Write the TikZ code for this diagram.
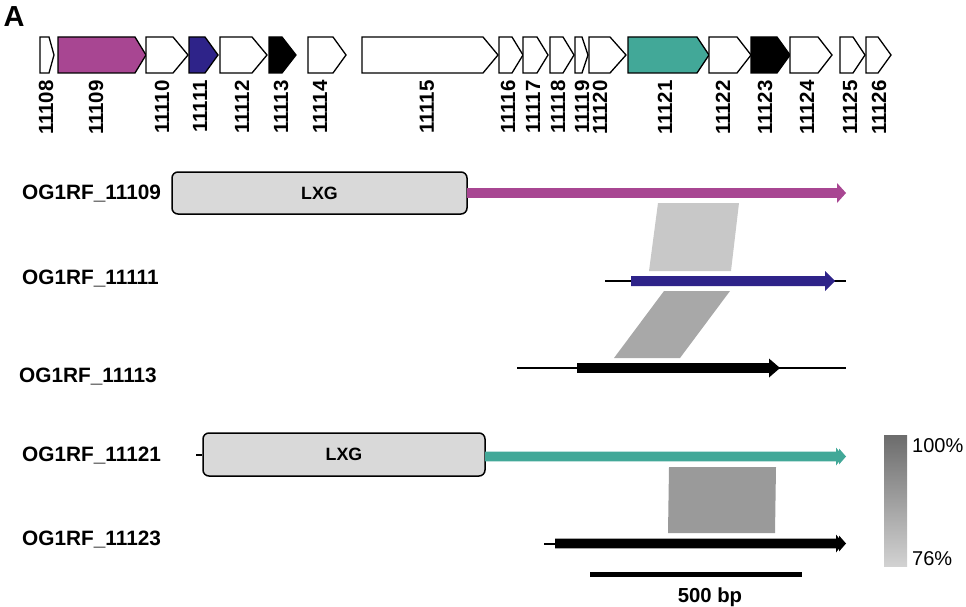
\documentclass[tikz,border=0pt]{standalone}
\usepackage{fontspec}
\setmainfont{Liberation Sans}
\definecolor{mag}{RGB}{168,70,146}
\definecolor{dblue}{RGB}{46,35,137}
\definecolor{tealc}{RGB}{66,168,152}
\definecolor{lxgfill}{RGB}{217,217,217}
\definecolor{hitA}{RGB}{200,200,200}
\definecolor{hitB}{RGB}{168,168,168}
\definecolor{hitC}{RGB}{154,154,154}
\definecolor{gradtop}{RGB}{108,108,108}
\definecolor{gradbot}{RGB}{210,210,210}
% gene arrow: x1, shoulder, tip, fill
\newcommand\genearrow[4]{\draw[genebox, fill=#4] (#1,37) -- (#2,37) -- (#3,55) -- (#2,73) -- (#1,73) -- cycle;}
% thick arrow: x1, head start, tip, y, half band, half head, colour
\newcommand\fatarrow[7]{\fill[#7] (#1,#4-#5) -- (#2,#4-#5) -- (#2,#4-#6) -- (#3,#4) -- (#2,#4+#6) -- (#2,#4+#5) -- (#1,#4+#5) -- cycle;}
\newcommand\extrahead[5]{\fill[#5] (#1,#3-#4) -- (#2,#3) -- (#1,#3+#4) -- cycle;}
\begin{document}
\begin{tikzpicture}[x=1pt,y=-1pt,
  genebox/.style={draw=black, line width=1.3pt, line join=miter},
  glabel/.style={font=\fontsize{20.5}{20}\selectfont\bfseries, inner sep=0pt, rotate=90, anchor=east},
  rowlabel/.style={font=\fontsize{20.8}{20}\selectfont\bfseries, inner sep=0pt, anchor=base west},
  lxgbox/.style={draw=black, line width=1.5pt, fill=lxgfill, rounded corners=6pt, inner sep=0pt,
    font=\fontsize{17.8}{18}\selectfont\bfseries},
  thinline/.style={draw=black, line width=2pt},
  pctlabel/.style={font=\fontsize{20}{20}\selectfont, inner sep=0pt, anchor=base west}]
\useasboundingbox (0,0) rectangle (966,607);

\node[font=\fontsize{29}{29}\selectfont\bfseries, inner sep=0pt, anchor=base west] (panel) at (3.5,27) {A};

% ---- locus ----
\genearrow{40}{49}{54}{white}
\genearrow{58}{135}{146}{mag}
\genearrow{146}{173}{188}{white}
\genearrow{189}{205}{218}{dblue}
\genearrow{220}{252}{267}{white}
\genearrow{269}{282}{296}{black}
\genearrow{308}{333}{346}{white}
\genearrow{362}{483}{498}{white}
\genearrow{499}{512}{523}{white}
\genearrow{523}{537}{548}{white}
\genearrow{550}{563}{574}{white}
\genearrow{575}{582}{588}{white}
\genearrow{589}{610}{626}{white}
\genearrow{628}{697}{709}{tealc}
\genearrow{709}{737}{751}{white}
\genearrow{751}{777}{790}{black}
\genearrow{790}{818}{832}{white}
\genearrow{840}{853}{865}{white}
\genearrow{866}{878}{891}{white}

\node[glabel] (g08) at (46,80) {11108};
\node[glabel] (g09) at (96,80) {11109};
\node[glabel] (g10) at (162,80) {11110};
\node[glabel] (g11) at (200,80) {11111};
\node[glabel] (g12) at (242,80) {11112};
\node[glabel] (g13) at (281,80) {11113};
\node[glabel] (g14) at (320,80) {11114};
\node[glabel] (g15) at (427,80) {11115};
\node[glabel] (g16) at (508,80) {11116};
\node[glabel] (g17) at (533,80) {11117};
\node[glabel] (g18) at (558,80) {11118};
\node[glabel] (g19) at (582,80) {11119};
\node[glabel] (g20) at (600,80) {11120};
\node[glabel] (g21) at (665,80) {11121};
\node[glabel] (g22) at (723,80) {11122};
\node[glabel] (g23) at (765,80) {11123};
\node[glabel] (g24) at (807,80) {11124};
\node[glabel] (g25) at (850,80) {11125};
\node[glabel] (g26) at (879,80) {11126};

% ---- homology blocks ----
\fill[hitA] (658,203) -- (739,203) -- (731,271) -- (649,271) -- cycle;
\fill[hitB] (664,291) -- (730,291) -- (680,358) -- (614,358) -- cycle;
\fill[hitC] (669,467) -- (776,467) -- (775,533) -- (668,533) -- cycle;

% ---- row labels ----
\node[rowlabel] (r1) at (22,199) {OG1RF\_11109};
\node[rowlabel] (r2) at (22,284) {OG1RF\_11111};
\node[rowlabel] (r3) at (19,382) {OG1RF\_11113};
\node[rowlabel] (r4) at (22,461) {OG1RF\_11121};
\node[rowlabel] (r5) at (22,545) {OG1RF\_11123};

% row 1
\node[lxgbox, minimum width=295pt, minimum height=42pt] (lxg1) at (319.5,193) {LXG};
\fatarrow{467}{837}{846}{193}{4.8}{10}{mag}
% row 2
\coordinate (r2a) at (605,281);
\coordinate (r2b) at (846,281);
\draw[thinline] (r2a) -- (r2b);
\fatarrow{631}{825}{835}{281}{5}{10}{dblue}
% row 3
\coordinate (r3a) at (517,368);
\coordinate (r3b) at (846,368);
\draw[thinline] (r3a) -- (r3b);
\fatarrow{577}{769}{780}{368}{4.8}{9.5}{black}
% row 4
\node[lxgbox, minimum width=282pt, minimum height=43pt] (lxg2) at (344,454.5) {LXG};
\coordinate (r4a) at (196,454.5);
\draw[thinline] (r4a) -- (lxg2.west);
\fatarrow{485}{836}{843}{456.5}{4.8}{9}{tealc}
\extrahead{839}{846}{456.5}{8}{tealc}
% row 5
\coordinate (r5a) at (544,543.5);
\coordinate (r5b) at (556,543.5);
\draw[thinline] (r5a) -- (r5b);
\fatarrow{555}{836}{843}{543.5}{4.8}{9}{black}
\extrahead{839}{846}{543.5}{8}{black}

% ---- scale bar ----
\coordinate (sb1) at (590,574);
\coordinate (sb2) at (802,574);
\draw[line width=5pt] (sb1) -- (sb2);
\node[font=\fontsize{20.3}{20}\selectfont\bfseries, inner sep=0pt, anchor=base] (sbl) at (710,602) {500 bp};

% ---- identity legend ----
\shade[top color=gradtop, bottom color=gradbot] (884,435) rectangle (907,566);
\node[pctlabel] (p100) at (912,452) {100\%};
\node[pctlabel] (p76) at (912,565) {76\%};
\end{tikzpicture}
\end{document}
